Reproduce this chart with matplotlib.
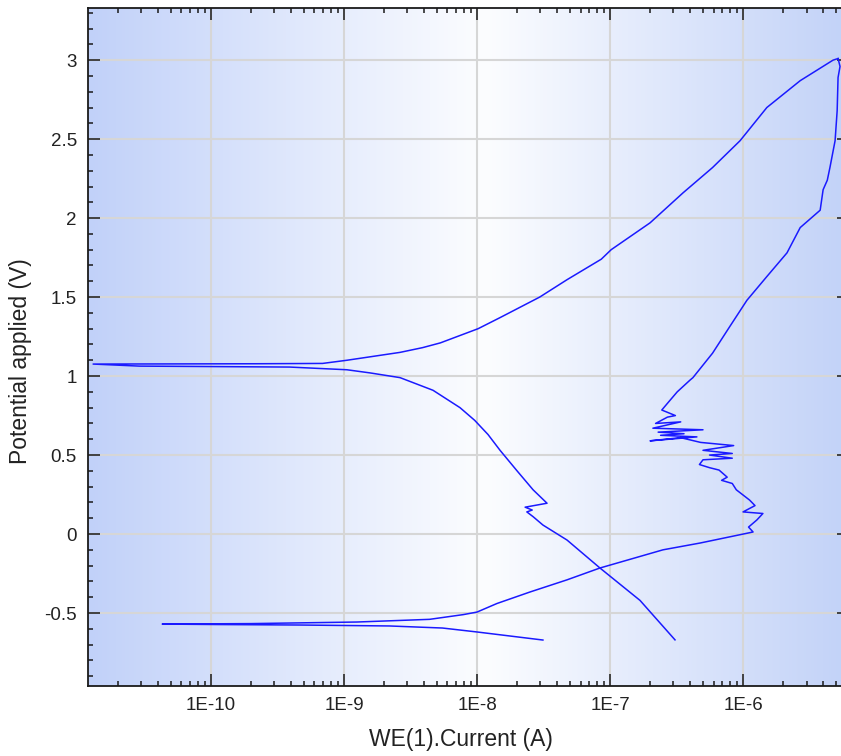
"""
plot.py — cyclic polarization curve (potential vs. log current)
"""

import numpy as np
import matplotlib
matplotlib.use("Agg")
import matplotlib.pyplot as plt
from matplotlib.ticker import LogLocator, FixedLocator, MultipleLocator, FuncFormatter, NullFormatter


# ──────────────────────────────────────────────
# Data
# ──────────────────────────────────────────────

# forward scan: cathodic start -> Ecorr -> anodic -> vertex
fwd_potential = [
    -0.671, -0.62, -0.595, -0.582, -0.576, -0.573, -0.570, -0.567, -0.557, -0.54,
    -0.51, -0.494, -0.44, -0.367, -0.29, -0.215, -0.10, -0.057, 0.013, 0.044,
    0.089, 0.13, 0.14, 0.18, 0.215, 0.28, 0.32, 0.34, 0.36, 0.405,
    0.42, 0.44, 0.47, 0.48, 0.50, 0.51, 0.53, 0.56, 0.58, 0.61,
    0.59, 0.615, 0.625, 0.635, 0.645, 0.66, 0.67, 0.71, 0.70, 0.74, 0.75, 0.785,
    0.835, 0.90, 0.975, 0.99, 1.145, 1.31, 1.48, 1.63, 1.78, 1.94,
    2.05, 2.18, 2.24, 2.32, 2.49, 2.68, 2.89, 2.96, 3.01,
]
fwd_current = [
    3.13e-8, 1.0e-8, 5.5e-9, 2.2e-9, 4.7e-10, 1.17e-10, 4.3e-11, 2.0e-10, 1.25e-9, 4.4e-9,
    7.9e-9, 1.0e-8, 1.41e-8, 2.5e-8, 4.75e-8, 8.4e-8, 2.5e-7, 4.75e-7, 1.19e-6, 1.10e-6,
    1.27e-6, 1.41e-6, 1.0e-6, 1.23e-6, 1.12e-6, 8.9e-7, 8.3e-7, 6.9e-7, 7.6e-7, 6.6e-7,
    5.6e-7, 4.7e-7, 5.0e-7, 8.3e-7, 5.6e-7, 8.3e-7, 5.0e-7, 8.5e-7, 4.8e-7, 3.4e-7,
    2.0e-7, 4.5e-7, 2.4e-7, 3.6e-7, 2.3e-7, 5.0e-7, 2.1e-7, 3.4e-7, 2.2e-7, 2.7e-7, 3.1e-7, 2.45e-7,
    2.75e-7, 3.2e-7, 4.0e-7, 4.2e-7, 5.9e-7, 7.9e-7, 1.07e-6, 1.51e-6, 2.14e-6, 2.69e-6,
    3.8e-6, 4.0e-6, 4.3e-6, 4.5e-6, 4.92e-6, 5.1e-6, 5.18e-6, 5.36e-6, 5.18e-6,
]

# reverse scan: vertex -> zero crossing -> cathodic end
rev_potential = [
    3.01, 3.0, 2.87, 2.70, 2.49, 2.32, 2.16, 1.97, 1.80, 1.74,
    1.61, 1.50, 1.37, 1.30, 1.21, 1.18, 1.15, 1.10, 1.08, 1.078,
    1.076, 1.063, 1.057, 1.04, 1.02, 0.99, 0.91, 0.80, 0.72, 0.63,
    0.53, 0.40, 0.28, 0.195, 0.17, 0.152, 0.14, 0.11, 0.057, -0.038,
    -0.215, -0.42, -0.67,
]
rev_current = [
    5.18e-6, 4.75e-6, 2.69e-6, 1.51e-6, 9.5e-7, 5.9e-7, 3.54e-7, 2.0e-7, 1.02e-7, 8.6e-8,
    4.75e-8, 2.96e-8, 1.49e-8, 1.02e-8, 5.3e-9, 3.9e-9, 2.64e-9, 1.05e-9, 6.9e-10, 2.2e-10,
    1.3e-11, 2.9e-11, 3.9e-10, 1.05e-9, 1.57e-9, 2.64e-9, 4.67e-9, 7.45e-9, 9.6e-9, 1.21e-8,
    1.49e-8, 2.0e-8, 2.64e-8, 3.36e-8, 2.3e-8, 2.6e-8, 2.37e-8, 2.64e-8, 3.13e-8, 4.75e-8,
    8.4e-8, 1.68e-7, 3.08e-7,
]

y_ticks = [-0.5, 0, 0.5, 1, 1.5, 2, 2.5, 3]
x_ticks = [1e-10, 1e-9, 1e-8, 1e-7, 1e-6]


# ──────────────────────────────────────────────
# Plot
# ──────────────────────────────────────────────

plt.rcParams["font.family"] = ["Liberation Sans", "DejaVu Sans"]
plt.rcParams["axes.unicode_minus"] = False

W, H = 841, 756
AX_L, AX_R, AX_T, AX_B = 88, 849, 8, 686
fig = plt.figure(figsize=(W / 100, H / 100), dpi=100)
ax = fig.add_axes([AX_L / W, 1 - AX_B / H, (AX_R - AX_L) / W, (AX_B - AX_T) / H])

# horizontal blue -> white -> blue background
edge_l = np.array([193, 209, 249]) / 255
mid = np.array([252, 253, 255]) / 255
edge_r = np.array([194, 210, 248]) / 255
t = np.linspace(0, 1, 512)
c = 0.52
grad = np.where(t[:, None] < c,
                edge_l + (mid - edge_l) * (t[:, None] / c),
                mid + (edge_r - mid) * ((t[:, None] - c) / (1 - c)))
ax.imshow(grad[None, :, :], extent=[0, 1, 0, 1], transform=ax.transAxes,
          aspect="auto", zorder=0, interpolation="bilinear")

ax.plot(fwd_current, fwd_potential, color="#1a1aff", lw=1.1, zorder=3)
ax.plot(rev_current, rev_potential, color="#1a1aff", lw=1.1, zorder=3)

ax.set_xscale("log")
ax.set_xlim(1.19e-11, 6.26e-6)
ax.set_ylim(-0.962, 3.33)

ax.xaxis.set_major_locator(FixedLocator(x_ticks))
ax.xaxis.set_minor_locator(LogLocator(base=10, subs=np.arange(2, 10), numticks=20))
ax.xaxis.set_major_formatter(FuncFormatter(lambda v, p: f"1E{int(round(np.log10(v)))}"))
ax.xaxis.set_minor_formatter(NullFormatter())
ax.yaxis.set_major_locator(FixedLocator(y_ticks))
ax.yaxis.set_minor_locator(MultipleLocator(0.1))
ax.yaxis.set_major_formatter(FuncFormatter(lambda v, p: f"{v:g}"))

ax.grid(True, which="major", color="#d6d6d6", lw=1.5)
for gl in ax.get_xgridlines() + ax.get_ygridlines():
    gl.set_zorder(1)

ax.tick_params(which="both", direction="in", top=True, right=True,
               width=1.1, colors="#1a1a1a", labelcolor="#222222")
ax.tick_params(which="major", length=8.5, labelsize=13.5, pad=8)
ax.tick_params(which="minor", length=3.5)
for s in ax.spines.values():
    s.set_linewidth(1.3)
    s.set_color("#1a1a1a")
    s.set_zorder(4)

ax.set_xlabel("WE(1).Current (A)", fontsize=16.5, color="#222222")
ax.set_ylabel("Potential applied (V)", fontsize=16.5, color="#222222")
ax_w, ax_h = AX_R - AX_L, AX_B - AX_T
ax.xaxis.set_label_coords((461 - AX_L) / ax_w, -(728 - AX_B) / ax_h, transform=ax.transAxes)
ax.yaxis.set_label_coords(-(AX_L - 32) / ax_w, (AX_B - 361) / ax_h, transform=ax.transAxes)

fig.savefig("out.png", dpi=100)
